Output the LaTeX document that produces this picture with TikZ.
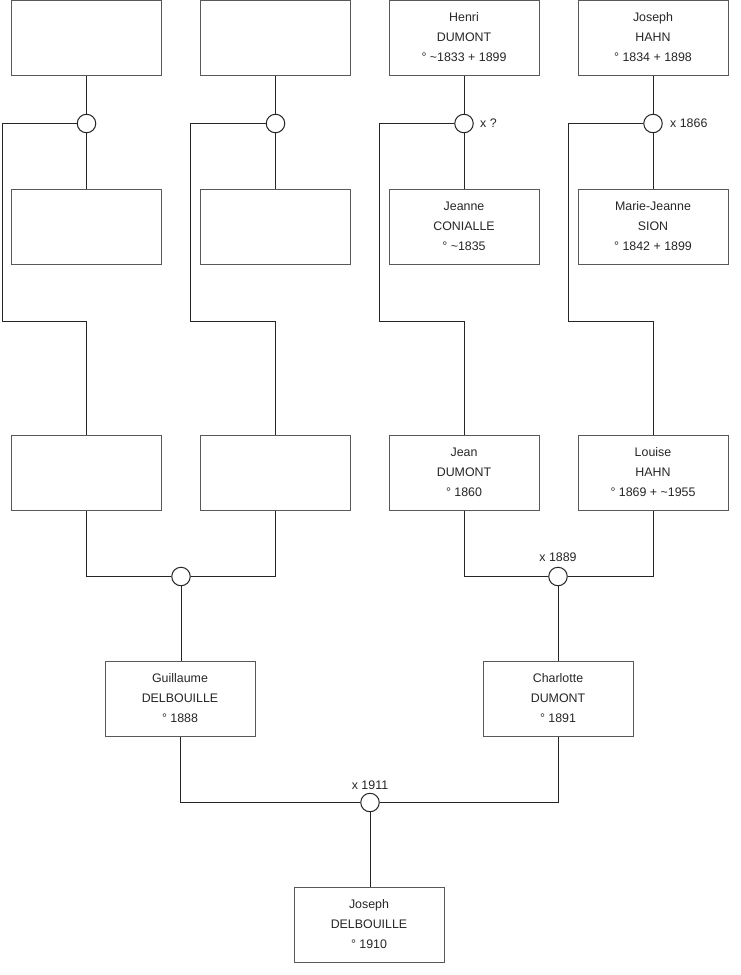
\documentclass[tikz,border=0pt]{standalone}
\usepackage{fontspec}
\setmainfont{Liberation Sans}
\newcommand{\pbox}[3]{\raisebox{0.3pt}[\height][\depth]{\begin{tabular}{@{}c@{}}#1\\#2\\#3\end{tabular}}}
\begin{document}
\begin{tikzpicture}[x=1pt,y=-1pt,
  box/.style={draw=black!65,line width=1pt,minimum width=150pt,minimum height=75pt,inner sep=0pt,align=center,font=\fontsize{12.4}{20}\selectfont,text=black!85},
  knot/.style={draw=black!85,line width=1pt,circle,minimum size=18.5pt,inner sep=0pt,fill=white},
  link/.style={draw=black!85,line width=1pt},
  lbl/.style={font=\fontsize{12.4}{14}\selectfont,text=black!85,inner sep=0pt}]
\useasboundingbox (0,0) rectangle (740,975);
% top row
\node[box] (t1) at (86,37.5) {};
\node[box] (t2) at (275,37.5) {};
\node[box] (t3) at (464,37.5) {\pbox{Henri}{DUMONT}{° \textasciitilde1833 + 1899}};
\node[box] (t4) at (653,37.5) {\pbox{Joseph}{HAHN}{° 1834 + 1898}};
% second row
\node[box] (m1) at (86,227) {};
\node[box] (m2) at (275,227) {};
\node[box] (m3) at (464,227) {\pbox{Jeanne}{CONIALLE}{° \textasciitilde1835}};
\node[box] (m4) at (653,227) {\pbox{Marie-Jeanne}{SION}{° 1842 + 1899}};
% third row
\node[box] (p1) at (86,473) {};
\node[box] (p2) at (275,473) {};
\node[box] (p3) at (464,473) {\pbox{Jean}{DUMONT}{° 1860}};
\node[box] (p4) at (653,473) {\pbox{Louise}{HAHN}{° 1869 + \textasciitilde1955}};
% fourth row
\node[box] (g1) at (180,699) {\pbox{Guillaume}{DELBOUILLE}{° 1888}};
\node[box] (g2) at (558,699) {\pbox{Charlotte}{DUMONT}{° 1891}};
% bottom
\node[box] (j) at (369,925) {\pbox{Joseph}{DELBOUILLE}{° 1910}};
% marriage knots
\node[knot] (c1) at (86.5,123.5) {};
\node[knot] (c2) at (275.5,123.5) {};
\node[knot] (c3) at (464,123.5) {};
\node[knot] (c4) at (653,123.5) {};
\node[knot] (cp1) at (181,576.5) {};
\node[knot] (cp2) at (558,576.5) {};
\node[knot] (cj) at (370,802.5) {};
% bend coordinates
\coordinate (k1) at (2,321);
\coordinate (k2) at (190.5,321);
\coordinate (k3) at (379.5,321);
\coordinate (k4) at (568.5,321);
% connectors top
\foreach \i in {1,2,3,4}{
  \draw[link] (t\i.south -| c\i) -- (c\i.north);
  \draw[link] (c\i.south) -- (m\i.north -| c\i);
  \draw[link] (c\i.west) -| (k\i) -| (p\i.north);
}
% connectors to fourth row
\draw[link] (p1.south) |- (cp1.west);
\draw[link] (p2.south) |- (cp1.east);
\draw[link] (cp1.south) -- (g1.north -| cp1);
\draw[link] (p3.south) |- (cp2.west);
\draw[link] (p4.south) |- (cp2.east);
\draw[link] (cp2.south) -- (g2.north);
% bottom connectors
\draw[link] (g1.south) |- (cj.west);
\draw[link] (g2.south) |- (cj.east);
\draw[link] (cj.south) -- (j.north -| cj);
% labels
\node[lbl,anchor=west] (l3) at (480,123.5) {x ?};
\node[lbl,anchor=west] (l4) at (670,123.5) {x 1866};
\node[lbl] (lp2) at (558,557.5) {x 1889};
\node[lbl] (lj) at (370,785) {x 1911};
\end{tikzpicture}
\end{document}
